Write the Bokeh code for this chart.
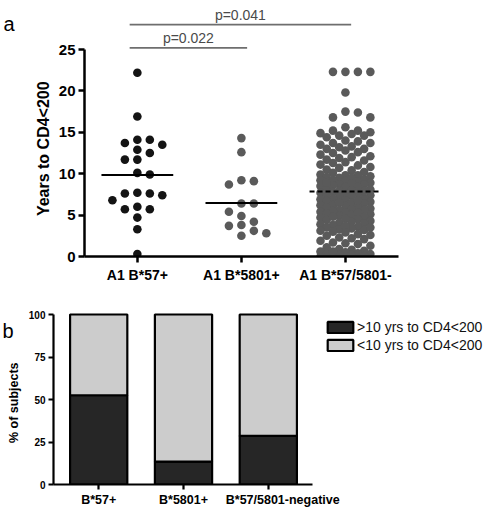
import numpy as np
from bokeh.plotting import figure
from bokeh.layouts import column, row
from bokeh.models import Range1d, FixedTicker, Legend, LegendItem, LinearAxis
from bokeh.core.properties import value
from bokeh.embed import file_html
from bokeh.resources import INLINE

FONT = "Liberation Sans"

# ---- panel a: years to CD4<200 per HLA group ----
groups_a = ["A1 B*57+", "A1 B*5801+", "A1 B*57/5801-"]

years_b57 = [22.2, 16.9, 14.1, 14.1, 13.7, 13.5, 12.9, 12.5, 11.7, 11.7,
             10.1, 9.9, 7.7, 7.6, 7.4, 7.6, 6.8, 6.0, 5.7, 5.7, 4.7, 3.3, 0.3]

years_b5801 = [14.3, 12.6, 9.2, 9.1, 8.7, 6.4, 6.4, 5.4, 4.9, 4.2,
               3.8, 3.7, 3.1, 2.8, 2.5]

years_neg = [22.3, 22.3, 22.3, 22.3, 19.8, 17.5, 17.4, 16.8, 16.8, 15.6,
             15.2, 15.2, 15.0, 14.9, 14.8, 14.6, 14.6, 14.4,
             14.0, 13.9, 13.7, 13.7, 13.5, 13.3, 13.2, 13.0, 13.0, 12.8,
             12.6, 12.5, 12.3, 12.1, 12.0, 11.9, 11.7, 11.6, 11.4, 11.3,
             11.1, 11.0, 10.8, 10.7, 10.5, 10.4, 10.2, 10.1,
             9.9, 9.8, 9.8, 9.6, 9.5, 9.5, 9.3, 9.2, 9.2, 9.1, 9.0, 9.7,
             8.9, 8.8, 8.7, 8.7, 8.5, 8.4, 8.4, 8.2, 8.1, 8.0, 8.6, 8.9,
             7.9, 7.8, 7.7, 7.6, 7.6, 7.4, 7.3, 7.2, 7.1, 7.0, 7.5, 7.9,
             6.9, 6.8, 6.7, 6.6, 6.5, 6.4, 6.2, 6.2, 6.1, 6.0, 6.5, 6.8,
             5.9, 5.8, 5.7, 5.6, 5.5, 5.4, 5.3, 5.2, 5.1, 5.0, 5.6, 5.3,
             4.9, 4.8, 4.7, 4.5, 4.4, 4.3, 4.2, 4.1, 4.0, 4.6, 4.8,
             3.9, 3.8, 3.6, 3.5, 3.4, 3.3, 3.2, 3.1, 3.0, 3.7, 3.5,
             2.9, 2.7, 2.5, 2.3, 2.1, 2.6, 2.2,
             1.9, 1.7, 1.5, 1.3, 1.1, 1.6,
             0.9, 0.8, 0.7, 0.6, 0.5, 0.4, 0.3, 0.3, 0.2, 0.1, 0.0, 0.0, 0.6, 0.2]

p_labels = ["p=0.022", "p=0.041"]
p_pairs = [(1, 2), (1, 3)]
y_title_a = "Years to CD4<200"
y_ticks_a = [0, 5, 10, 15, 20, 25]

# ---- panel b: share of subjects above / below 10 years ----
groups_b = ["B*57+", "B*5801+", "B*57/5801-negative"]
pct_over10 = [52.5, 13.5, 28.6]
legend_labels = [">10 yrs to CD4<200", "<10 yrs to CD4<200"]
y_title_b = "% of subjects"
y_ticks_b = [0, 25, 50, 75, 100]


def swarm(vals, center, px_x, px_y, slot=12.5, min_d=9.0, n_side=2):
    """Place points in horizontal slots so that dots of similar value sit side by side."""
    vals = np.asarray(vals, dtype=float)
    order = np.argsort(-vals, kind="stable")
    cands = [0.0]
    for k in range(1, n_side + 1):
        cands += [k * slot, -k * slot]
    extra = sorted({k * slot / 2 for k in range(-2 * n_side, 2 * n_side + 1)}, key=abs)
    placed = []
    xs = np.zeros(len(vals))
    for i in order:
        y = vals[i] * px_y

        def nearest(c):
            if not placed:
                return 1e9
            return min(np.hypot(c - px, y - py) for px, py in placed)

        best = None
        for c in cands:
            if nearest(c) >= min_d:
                best = c
                break
        if best is None:
            best = max(extra, key=nearest)
        placed.append((best, y))
        xs[i] = center + best / px_x
    return xs


def style_axis(ax, size, width=2.5, tick_out=6):
    ax.axis_line_width = width
    ax.axis_line_color = "black"
    ax.major_tick_line_width = width
    ax.major_tick_line_color = "black"
    ax.major_tick_out = tick_out
    ax.major_tick_in = 0
    ax.minor_tick_line_color = None
    ax.major_label_text_font = FONT
    ax.major_label_text_font_style = "bold"
    ax.major_label_text_font_size = size
    ax.major_label_text_color = "black"


def strip(width, height):
    """Narrow pixel-scaled canvas that carries the panel letter and the y title."""
    s = figure(width=width, height=height, output_backend="svg", toolbar_location=None,
               x_range=Range1d(0, width), y_range=Range1d(0, height),
               x_axis_type=None, y_axis_type=None,
               min_border_left=0, min_border_right=0, min_border_top=0, min_border_bottom=0)
    s.outline_line_color = None
    s.grid.visible = False
    return s


# ======================= panel a =======================
PX_X_A = 104.3
PX_Y_A = 8.28
H_A = 290
strip_a = strip(55, H_A)
strip_a.text(x=[3], y=[H_A - 20], text=["a"], text_font=value(FONT), text_font_size="20px",
             text_baseline="alphabetic", text_color="black")
strip_a.text(x=[43], y=[H_A - 165], text=[y_title_a], angle=np.pi / 2, text_align="center",
             text_baseline="middle", text_font=value(FONT), text_font_style="bold",
             text_font_size="16px", text_color="black")

pa = figure(width=484 - 55, height=H_A, output_backend="svg", toolbar_location=None,
            x_range=Range1d(0.492, 0.492 + 401 / PX_X_A),
            y_range=Range1d(0, 250 / PX_Y_A),
            min_border_left=28, min_border_right=0, min_border_top=6, min_border_bottom=34)
pa.outline_line_color = None
pa.grid.visible = False

pa.yaxis.bounds = (0, 25)
pa.yaxis.ticker = FixedTicker(ticks=y_ticks_a)
style_axis(pa.yaxis[0], "15px")
pa.yaxis.major_label_standoff = 3

pa.xaxis.bounds = (0.492, 3.508)
pa.xaxis.ticker = FixedTicker(ticks=[1, 2, 3])
pa.xaxis.major_label_overrides = {1: groups_a[0], 2: groups_a[1], 3: groups_a[2]}
style_axis(pa.xaxis[0], "14px")
pa.xaxis.major_label_standoff = 4

series = [(years_b57, "#141414", None), (years_b5801, "#5a5a5a", None), (years_neg, "#5a5a5a", "5 3")]
for k, (vals, col, dash) in enumerate(series, start=1):
    xs = swarm(vals, k, PX_X_A, PX_Y_A)
    pa.scatter(x=xs, y=vals, size=8.6, fill_color=col, line_color=None)
for k, (vals, col, dash) in enumerate(series, start=1):
    m = float(np.mean(vals))
    pa.segment(x0=[k - 0.345], x1=[k + 0.345], y0=[m], y1=[m], line_color="black",
               line_width=2, line_dash=dash if dash else "solid")

bracket_y = [25.2, 28.0]
for lab, (g0, g1), by in zip(p_labels, p_pairs, bracket_y):
    x0, x1 = g0 - 0.074, g1 + 0.055
    pa.segment(x0=[x0], x1=[x1], y0=[by], y1=[by], line_color="#6e6e6e", line_width=1.6)
    pa.text(x=[(x0 + x1) / 2], y=[by + 0.2], text=[lab], text_align="center",
            text_baseline="bottom", text_font=value(FONT), text_font_size="14px",
            text_color="#4a4a4a")

# ======================= panel b =======================
PX_X_B = 85.0
PX_Y_B = 1.7
H_B = 220
strip_b = strip(25, H_B)
strip_b.text(x=[2], y=[H_B - 25], text=["b"], text_font=value(FONT), text_font_size="20px",
             text_baseline="alphabetic", text_color="black")
strip_b.text(x=[13], y=[H_B - 116], text=[y_title_b], angle=np.pi / 2, text_align="center",
             text_baseline="middle", text_font=value(FONT), text_font_style="bold",
             text_font_size="12.5px", text_color="black")

pb = figure(width=459, height=H_B, output_backend="svg", toolbar_location=None,
            x_range=Range1d(0.467, 0.467 + 432 / PX_X_B),
            y_range=Range1d(0, 173 / PX_Y_B),
            min_border_left=27, min_border_right=0, min_border_top=21, min_border_bottom=26)
pb.outline_line_color = None
pb.grid.visible = False

pb.yaxis.bounds = (0, 100)
pb.yaxis.ticker = FixedTicker(ticks=y_ticks_b)
style_axis(pb.yaxis[0], "10px", width=2.2, tick_out=5)
pb.yaxis.major_label_standoff = 3

# x axis: tick marks under the bar centres, names set on a second axis just beneath
xb = [1, 2, 3]
name_pos = [1, 2, 3.17]
pb.xaxis.bounds = (0.467, 3.526)
pb.xaxis.ticker = FixedTicker(ticks=xb)
style_axis(pb.xaxis[0], "0px", width=2.2, tick_out=5)
pb.xaxis.major_label_standoff = 0
pb.xaxis.major_label_overrides = {1: "", 2: "", 3: ""}

names = LinearAxis(ticker=FixedTicker(ticks=name_pos),
                   major_label_overrides={name_pos[i]: groups_b[i] for i in range(3)})
style_axis(names, "12.5px", width=0, tick_out=0)
names.axis_line_color = None
names.major_tick_line_color = None
names.major_label_standoff = 3
pb.add_layout(names, "below")

dark = pb.vbar(x=xb, bottom=0, top=pct_over10, width=0.675, fill_color="#262626",
               line_color="black", line_width=2.2)
light = pb.vbar(x=xb, bottom=pct_over10, top=[100] * 3, width=0.675, fill_color="#cccccc",
                line_color="black", line_width=2.2)

leg = Legend(items=[LegendItem(label=legend_labels[0], renderers=[dark]),
                    LegendItem(label=legend_labels[1], renderers=[light])],
             location=(271, 131), padding=0, margin=0, spacing=2,
             glyph_width=32, glyph_height=14, label_standoff=1,
             label_text_font=FONT, label_text_font_size="14px", label_text_color="#111111",
             border_line_color=None, background_fill_color=None)
pb.add_layout(leg, "center")

page = column(row(strip_a, pa), row(strip_b, pb))
open("out.html", "w").write(file_html(page, INLINE))
